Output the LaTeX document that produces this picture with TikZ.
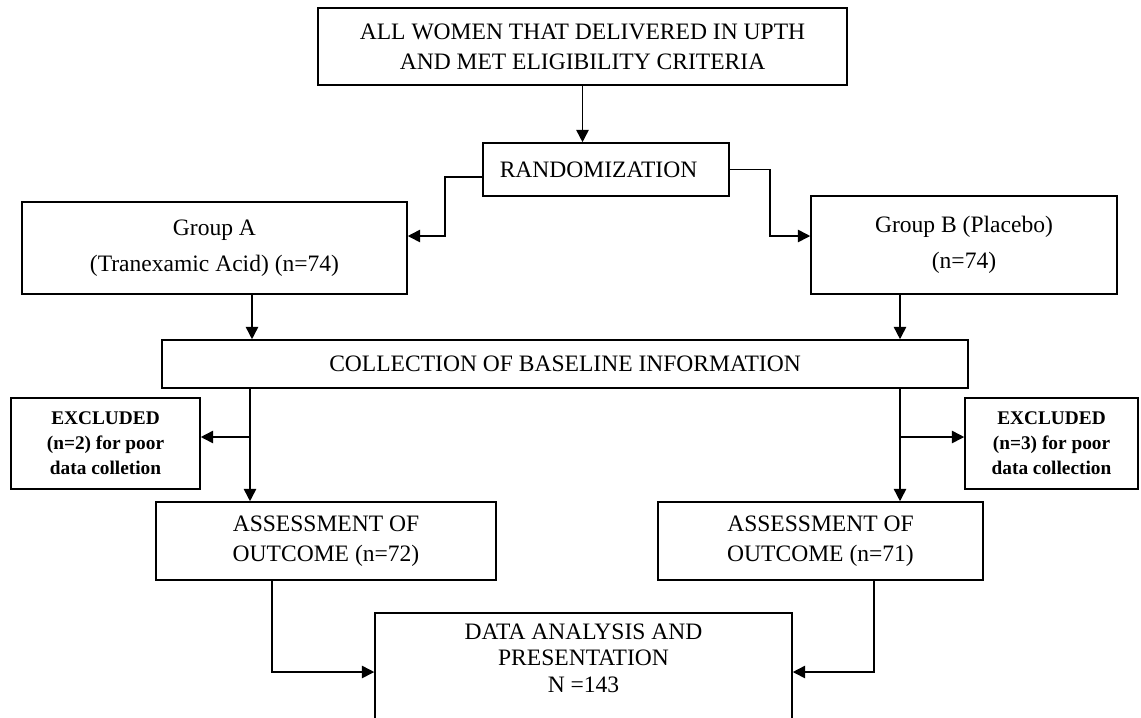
\documentclass[tikz,border=0pt]{standalone}
\usepackage{fontspec}
\setmainfont{Liberation Serif}
\usetikzlibrary{arrows.meta, positioning}

\begin{document}
\begin{tikzpicture}[x=0.02cm,y=-0.02cm,line width=0.9pt,>={Triangle[length=7pt,width=7pt]}]
  \tikzstyle{box}=[draw, rectangle, align=center, inner sep=0pt, font=\fontsize{13.4}{17}\selectfont]
  \tikzstyle{groupbox}=[box, font=\fontsize{13.4}{20.5}\selectfont]
  \tikzstyle{exclbox}=[box, font=\fontsize{11}{14.2}\selectfont\bfseries]

  \useasboundingbox (0,0) rectangle (1141,717);
  \clip (0,0) rectangle (1141,717);

  \node[box, minimum width=10.58cm, minimum height=1.54cm] (top)  at (582.5,46.5) {ALL WOMEN THAT DELIVERED IN UPTH\\AND MET ELIGIBILITY CRITERIA};
  \node[box, minimum width=4.92cm,  minimum height=1.06cm] (rand) at (606,169.5)  {RANDOMIZATION\hspace{0.3cm}};
  \node[groupbox, minimum width=7.7cm,  minimum height=1.84cm] (grpA) at (214.5,248) {Group A\\(Tranexamic Acid) (n=74)};
  \node[groupbox, minimum width=6.12cm, minimum height=1.96cm] (grpB) at (964,245)   {Group B (Placebo)\\(n=74)};
  \node[box, minimum width=16.12cm, minimum height=0.96cm] (coll) at (565,364)    {COLLECTION OF BASELINE INFORMATION};
  \node[exclbox, minimum width=3.78cm, minimum height=1.82cm] (exclA) at (105.5,443.5)  {EXCLUDED\\(n=2) for poor\\data colletion};
  \node[exclbox, minimum width=3.46cm, minimum height=1.82cm] (exclB) at (1051.5,443.5) {EXCLUDED\\(n=3) for poor\\data collection};
  \node[box, minimum width=6.8cm, minimum height=1.56cm] (assA) at (326,541)   {ASSESSMENT OF\\OUTCOME (n=72)};
  \node[box, minimum width=6.5cm, minimum height=1.56cm] (assB) at (820.5,541) {ASSESSMENT OF\\OUTCOME (n=71)};
  \node[box, minimum width=8.34cm, minimum height=3cm, anchor=north] (data) at (583.5,612) {};
  \node[align=center, font=\fontsize{13.4}{15}\selectfont] (datalbl) at (583.5,658) {DATA ANALYSIS AND\\PRESENTATION\\N =143};

  % bend and split points
  \coordinate (randL)  at (445,236);
  \coordinate (randR)  at (770,236);
  \coordinate (dropA)  at (252,320);
  \coordinate (dropB)  at (900,320);
  \coordinate (splitA) at (250,437);
  \coordinate (splitB) at (900,437);
  \coordinate (joinA)  at (272,672);
  \coordinate (joinB)  at (874,672);

  \draw[->] (top.south) -- (top.south |- rand.north);
  \draw[->] ([yshift=-0.15cm]rand.west) -| (randL) -- (randL -| grpA.east);
  \draw[->] (rand.east) -| (randR) -- (randR -| grpB.west);
  \draw[->] (grpA.south -| dropA) -- (coll.north -| dropA);
  \draw[->] (grpB.south -| dropB) -- (coll.north -| dropB);
  \draw[->] (coll.south -| splitA) -- (assA.north -| splitA);
  \draw[->] (coll.south -| splitB) -- (assB.north -| splitB);
  \draw[->] (splitA) -- (splitA -| exclA.east);
  \draw[->] (splitB) -- (splitB -| exclB.west);
  \draw[->] (assA.south -| joinA) |- (data.west |- joinA);
  \draw[->] (assB.south -| joinB) |- (data.east |- joinB);
\end{tikzpicture}
\end{document}
